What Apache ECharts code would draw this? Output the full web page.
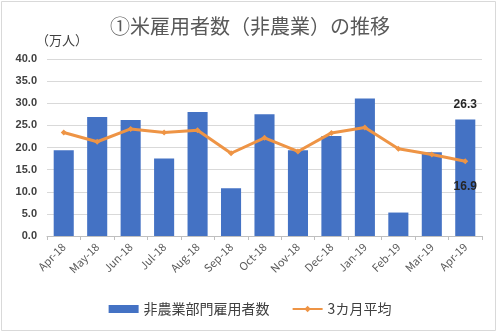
<!DOCTYPE html>
<html>
<head>
<meta charset="utf-8">
<script src="https://cdn.jsdelivr.net/npm/echarts@6/dist/echarts.min.js"></script>
<style>
  html, body { margin: 0; padding: 0; background: #fff; }
  #chart { width: 500px; height: 334px; }
</style>
</head>
<body>
<div id="chart"></div>
<script>
// 米国の非農業部門雇用者数（前月差、万人）と3カ月平均
const months = ['Apr-18','May-18','Jun-18','Jul-18','Aug-18','Sep-18','Oct-18','Nov-18','Dec-18','Jan-19','Feb-19','Mar-19','Apr-19'];
const payrolls = [19.4, 26.9, 26.2, 17.5, 28.0, 10.8, 27.5, 19.4, 22.6, 31.1, 5.3, 18.9, 26.3];
const avg3m = [23.4, 21.3, 24.2, 23.4, 23.9, 18.7, 22.2, 19.1, 23.3, 24.5, 19.7, 18.4, 16.9];
const yTicks = [0, 5, 10, 15, 20, 25, 30, 35, 40];

const FONT = '"Noto Sans CJK JP", "Noto Sans", sans-serif';
const NUM_FONT = '"Liberation Sans", sans-serif';
const lastIdx = months.length - 1;
const ORANGE = '#EE9445';

const chart = echarts.init(document.getElementById('chart'), null, { renderer: 'canvas' });
chart.setOption({
  animation: false,
  backgroundColor: '#ffffff',
  title: {
    text: '①米雇用者数（非農業）の推移',
    left: 'center',
    top: 11,
    textStyle: { fontFamily: FONT, fontSize: 20, fontWeight: 'normal', color: '#595959' }
  },
  graphic: [
    {
      type: 'rect',
      shape: { x: 1.5, y: 1.5, width: 494, height: 329 },
      style: { fill: 'none', stroke: '#d9d9d9', lineWidth: 1 },
      silent: true
    },
    {
      type: 'text',
      left: 36, top: 34,
      style: { text: '（万人）', font: '13px ' + FONT, fill: '#404040' }
    }
  ],
  legend: {
    bottom: 13,
    left: 'center',
    itemGap: 22,
    itemWidth: 30,
    itemHeight: 8,
    textStyle: { fontFamily: FONT, fontSize: 14, color: '#404040' },
    data: [
      { name: '非農業部門雇用者数', icon: 'rect' },
      { name: '3カ月平均' }
    ]
  },
  grid: { left: 47, right: 18, top: 59, bottom: 98 },
  xAxis: {
    type: 'category',
    data: months,
    boundaryGap: true,
    axisLine: { lineStyle: { color: '#bfbfbf' } },
    axisTick: { show: true, alignWithLabel: false, length: 4, lineStyle: { color: '#bfbfbf' } },
    axisLabel: {
      rotate: 45,
      interval: 0,
      margin: 9,
      fontFamily: FONT,
      fontSize: 11,
      color: '#595959'
    }
  },
  yAxis: {
    type: 'value',
    min: yTicks[0],
    max: yTicks[yTicks.length - 1],
    interval: yTicks[1] - yTicks[0],
    axisLine: { show: false },
    axisTick: { show: false },
    splitLine: { lineStyle: { color: '#d9d9d9' } },
    axisLabel: {
      formatter: v => v.toFixed(1),
      fontFamily: NUM_FONT,
      fontWeight: 'bold',
      fontSize: 11,
      color: '#404040',
      margin: 10
    }
  },
  series: [
    {
      name: '非農業部門雇用者数',
      type: 'bar',
      data: payrolls.map((v, i) => i === lastIdx ? {
        value: v,
        label: {
          show: true, position: 'top', distance: 9,
          formatter: p => p.value.toFixed(1),
          fontFamily: NUM_FONT, fontWeight: 'bold', fontSize: 12, color: '#262626'
        }
      } : v),
      barWidth: '60%',
      itemStyle: { color: '#4472C4' }
    },
    {
      name: '3カ月平均',
      type: 'line',
      data: avg3m.map((v, i) => i === lastIdx ? {
        value: v,
        label: {
          show: true, position: 'bottom', distance: 16,
          formatter: p => p.value.toFixed(1),
          fontFamily: NUM_FONT, fontWeight: 'bold', fontSize: 12, color: '#262626'
        }
      } : v),
      symbol: 'diamond',
      symbolSize: 6,
      lineStyle: { color: ORANGE, width: 3 },
      itemStyle: { color: ORANGE },
      z: 3
    }
  ]
});
</script>
</body>
</html>
